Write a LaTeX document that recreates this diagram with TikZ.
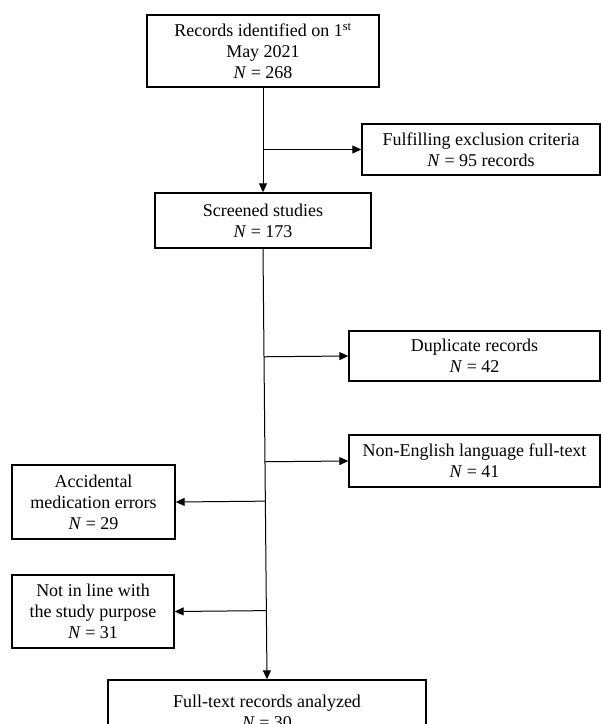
\documentclass[tikz,border=0pt]{standalone}
\usepackage{fontspec}
\setmainfont{Liberation Serif}
\usetikzlibrary{arrows.meta,calc}
\begin{document}
\begin{tikzpicture}[x=1pt,y=-1pt,
  box/.style={draw=black,line width=1.4pt,fill=white,inner sep=0pt,align=center,
    font=\fontsize{18}{21}\selectfont},
  conn/.style={draw=black,line width=1pt,-{Triangle[length=9pt,width=8pt]}}]
\clip (0,0) rectangle (601,724);
\fill[white] (0,0) rectangle (601,724);
\node[box,minimum width=232pt,minimum height=72pt] (top) at (263,51)
  {Records identified on 1\textsuperscript{st}\\May 2021\\\textit{N} = 268};
\node[box,minimum width=238pt,minimum height=51pt] (ful) at (481,149.5)
  {Fulfilling exclusion criteria\\\textit{N} = 95 records};
\node[box,minimum width=216pt,minimum height=55pt] (scr) at (263,220.5)
  {Screened studies\\\textit{N} = 173};
\node[box,minimum width=251pt,minimum height=50pt] (dup) at (474.5,356)
  {Duplicate records\\\textit{N} = 42};
\node[box,minimum width=251pt,minimum height=52pt] (nen) at (474.5,461)
  {Non-English language full-text\\\textit{N} = 41};
\node[box,minimum width=163pt,minimum height=74pt] (acc) at (93.5,502)
  {Accidental\\medication errors\\\textit{N} = 29};
\node[box,minimum width=162pt,minimum height=73pt] (nil) at (93,611.5)
  {Not in line with\\the study purpose\\\textit{N} = 31};
\node[box,minimum width=318pt,minimum height=64pt] (fin) at (267,712)
  {Full-text records analyzed\\\textit{N} = 30};
\draw[conn] (top.south) -- (scr.north);
\draw[conn] (top.south |- ful.west) -- (ful.west);
\draw[conn] (scr.south) -- (fin.north);
\draw[conn] ($(scr.south)!(dup.west)!(fin.north)$) -- (dup.west);
\draw[conn] ($(scr.south)!(nen.west)!(fin.north)$) -- (nen.west);
\draw[conn] ($(scr.south)!(acc.east)!(fin.north)$) -- (acc.east);
\draw[conn] ($(scr.south)!(nil.east)!(fin.north)$) -- (nil.east);
\end{tikzpicture}
\end{document}
